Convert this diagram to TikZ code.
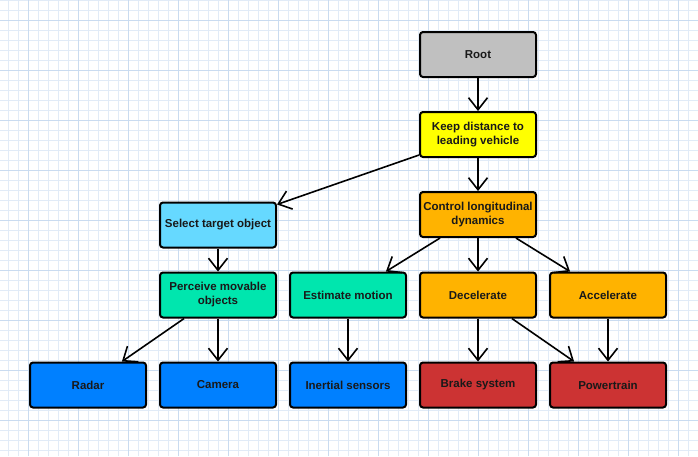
\documentclass[tikz,border=0pt]{standalone}
\usepackage{fontspec}
\setmainfont{Liberation Sans}
\usetikzlibrary{arrows.meta}
\definecolor{gridminor}{HTML}{E1EBF7}
\definecolor{gridmajor}{HTML}{C9DBF0}
\definecolor{cgray}{HTML}{C0C0C0}
\definecolor{cyellow}{HTML}{FFFF00}
\definecolor{corange}{HTML}{FFB300}
\definecolor{clight}{HTML}{66D9FF}
\definecolor{cteal}{HTML}{00E6AE}
\definecolor{cblue}{HTML}{0080FF}
\definecolor{cred}{HTML}{CC3333}
\tikzset{
  box/.style={draw=black, line width=2pt, rounded corners=3pt, rectangle,
    minimum width=116pt, minimum height=45pt, inner sep=2pt,
    font=\fontsize{11.5}{14}\selectfont\bfseries, align=center, text=black!90},
  conn/.style={line width=1.6pt, -{Straight Barb[length=12pt,width=19pt]}},
}
\begin{document}
\begin{tikzpicture}[x=1pt,y=-1pt]
\useasboundingbox (0,0) rectangle (698,456);
\fill[white] (0,0) rectangle (698,456);
% grid
\foreach \x in {8,18,...,698} \draw[gridminor, line width=1pt] (\x,0) -- (\x,456);
\foreach \y in {0,10,...,456} \draw[gridminor, line width=1pt] (0,\y) -- (698,\y);
\foreach \x in {28,78,...,698} \draw[gridmajor, line width=1pt] (\x,0) -- (\x,456);
\foreach \y in {20,70,...,456} \draw[gridmajor, line width=1pt] (0,\y) -- (698,\y);
% nodes
\node[box, fill=cgray] (root) at (478,54.5) {Root};
\node[box, fill=cyellow] (keep) at (478,134.5) {Keep distance to\\leading vehicle};
\node[box, fill=corange] (ctrl) at (478,214.5) {Control longitudinal\\dynamics};
\node[box, fill=clight] (sel) at (218,225) {Select target object};
\node[box, fill=cteal] (perc) at (218,295) {Perceive movable\\objects};
\node[box, fill=cteal] (est) at (348,295) {Estimate motion};
\node[box, fill=corange] (dec) at (478,295) {Decelerate};
\node[box, fill=corange] (acc) at (608,295) {Accelerate};
\node[box, fill=cblue] (radar) at (88,385) {Radar};
\node[box, fill=cblue] (cam) at (218,385) {Camera};
\node[box, fill=cblue] (ins) at (348,385) {Inertial sensors};
\node[box, fill=cred] (brake) at (478,385) {Brake system};
\node[box, fill=cred] (power) at (608,385) {Powertrain};
% connectors
\draw[conn] (root) -- (keep);
\draw[conn] (keep) -- (ctrl);
\draw[conn] (keep) -- (sel);
\draw[conn] (sel) -- (perc);
\draw[conn] (ctrl) -- (est);
\draw[conn] (ctrl) -- (dec);
\draw[conn] (ctrl) -- (acc);
\draw[conn] (perc) -- (radar);
\draw[conn] (perc) -- (cam);
\draw[conn] (est) -- (ins);
\draw[conn] (dec) -- (brake);
\draw[conn] (dec) -- (power);
\draw[conn] (acc) -- (power);
\end{tikzpicture}
\end{document}
